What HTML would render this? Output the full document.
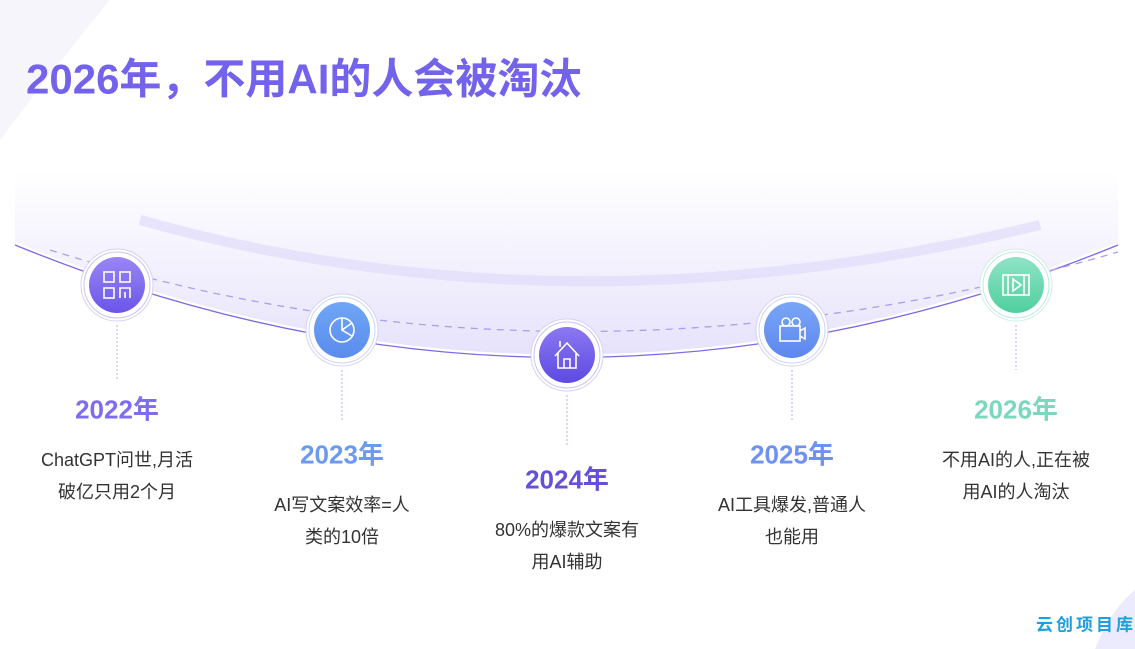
<!DOCTYPE html>
<html><head><meta charset="utf-8"><style>
body{margin:0;width:1135px;height:649px;overflow:hidden;background:#fff;font-family:"Liberation Sans","Noto Sans CJK SC",sans-serif;position:relative}
.t{position:absolute;white-space:nowrap;transform:translate(-50%,-50%)}
.y{font-size:26px;font-weight:bold}
.d{font-size:18px;color:#333}
</style></head><body>
<svg width="1135" height="649" style="position:absolute;left:0;top:0">
<defs>
<linearGradient id="bg" x1="0" y1="0" x2="0" y2="1">
<stop offset="0" stop-color="#ffffff"/><stop offset="0.5" stop-color="#f3f1fd"/><stop offset="1" stop-color="#e6e2fb"/></linearGradient>
<linearGradient id="c1" x1="0" y1="0" x2="0" y2="1"><stop offset="0" stop-color="#9a86f6"/><stop offset="1" stop-color="#6a55ea"/></linearGradient>
<linearGradient id="c2" x1="0" y1="0" x2="0" y2="1"><stop offset="0" stop-color="#6fa6f5"/><stop offset="1" stop-color="#5a8cef"/></linearGradient>
<linearGradient id="c3" x1="0" y1="0" x2="0" y2="1"><stop offset="0" stop-color="#8a78f2"/><stop offset="1" stop-color="#5d4ae2"/></linearGradient>
<linearGradient id="c4" x1="0" y1="0" x2="0" y2="1"><stop offset="0" stop-color="#7aa6f7"/><stop offset="1" stop-color="#5e86f0"/></linearGradient>
<linearGradient id="c5" x1="0" y1="0" x2="0" y2="1"><stop offset="0" stop-color="#8fe3c6"/><stop offset="1" stop-color="#4fcf9e"/></linearGradient>
</defs>
<path d="M0,0 L110,0 Q60,60 0,140 Z" fill="#f6f5fc"/>
<path d="M1135,590 Q1110,610 1095,649 L1135,649 Z" fill="#eceafd"/>
<path d="M15,170 L1118,170 L1118,245 Q567,470 15,245 Z" fill="url(#bg)"/>
<path d="M140,220 Q567,340 1040,225" fill="none" stroke="#e0dbfa" stroke-width="10" opacity="0.7"/>
<path d="M15,245 Q567,470 1118,245" fill="none" stroke="#fff" stroke-width="6"/>
<path d="M15,245 Q567,470 1118,245" fill="none" stroke="#7a6ae6" stroke-width="1.3"/>
<path d="M50,250 Q567,412 1118,252" fill="none" stroke="#a9a0ee" stroke-width="1.3" stroke-dasharray="7,6"/>
<g stroke="#b8b2e8" stroke-width="1" stroke-dasharray="2,2">
<line x1="117" y1="325" x2="117" y2="380"/><line x1="342" y1="370" x2="342" y2="420"/>
<line x1="567" y1="395" x2="567" y2="445"/><line x1="792" y1="370" x2="792" y2="420"/><line x1="1016" y1="325" x2="1016" y2="370"/></g>
<g fill="#fff">
<circle cx="117" cy="285" r="36" stroke="#d6d2f5"/><circle cx="117" cy="285" r="33" stroke="#c9c3f2"/><circle cx="117" cy="285" r="28" fill="url(#c1)"/>
<circle cx="342" cy="330" r="36" stroke="#d6d2f5"/><circle cx="342" cy="330" r="33" stroke="#c9d6f5"/><circle cx="342" cy="330" r="28" fill="url(#c2)"/>
<circle cx="567" cy="355" r="36" stroke="#d6d2f5"/><circle cx="567" cy="355" r="33" stroke="#c9c3f2"/><circle cx="567" cy="355" r="28" fill="url(#c3)"/>
<circle cx="792" cy="330" r="36" stroke="#d6d2f5"/><circle cx="792" cy="330" r="33" stroke="#c9d6f5"/><circle cx="792" cy="330" r="28" fill="url(#c4)"/>
<circle cx="1016" cy="285" r="36" stroke="#d2efe5"/><circle cx="1016" cy="285" r="33" stroke="#bfeadb"/><circle cx="1016" cy="285" r="28" fill="url(#c5)"/>
</g>
<g fill="none" stroke="#fff" stroke-width="1.6">
<rect x="104" y="272" width="10" height="10"/><rect x="120" y="272" width="10" height="10"/><rect x="104" y="288" width="10" height="10"/>
<path d="M120,298 V288 H130 V298 M125,292 V298"/>
<circle cx="342" cy="330" r="12"/><path d="M342,318 V330 L352,336 M342,330 L352,323"/>
<path d="M555,356 L567,343 L579,356 M558,353 V368 H576 V353 M564,368 V359 H570 V368 M560,347 V341"/>
<circle cx="786" cy="322" r="4"/><circle cx="796" cy="322" r="4"/><rect x="780" y="326" width="20" height="15"/><path d="M800,331 L805,328 V339 L800,336"/>
<rect x="1003" y="275" width="26" height="20"/><path d="M1008,275 V295 M1024,275 V295 M1013,279 L1021,285 L1013,291 Z"/>
</g>
</svg>
<div class="t" style="left:26px;top:76px;transform:translateY(-50%);font-size:42px;font-weight:bold;color:#7262ec">2026年，不用AI的人会被淘汰</div>
<div class="t y" style="left:117px;top:408px;color:#7d6df0">2022年</div>
<div class="t d" style="left:117px;top:459px">ChatGPT问世,月活</div>
<div class="t d" style="left:117px;top:491px">破亿只用2个月</div>
<div class="t y" style="left:342px;top:453px;color:#6b9af0">2023年</div>
<div class="t d" style="left:342px;top:504px">AI写文案效率=人</div>
<div class="t d" style="left:342px;top:536px">类的10倍</div>
<div class="t y" style="left:567px;top:478px;color:#6450dc">2024年</div>
<div class="t d" style="left:567px;top:529px">80%的爆款文案有</div>
<div class="t d" style="left:567px;top:561px">用AI辅助</div>
<div class="t y" style="left:792px;top:453px;color:#6e92f2">2025年</div>
<div class="t d" style="left:792px;top:504px">AI工具爆发,普通人</div>
<div class="t d" style="left:792px;top:536px">也能用</div>
<div class="t y" style="left:1016px;top:408px;color:#7bd8bc">2026年</div>
<div class="t d" style="left:1016px;top:459px">不用AI的人,正在被</div>
<div class="t d" style="left:1016px;top:491px">用AI的人淘汰</div>
<div class="t" style="left:1086px;top:623px;font-size:17px;font-weight:bold;color:#1ea0e0;letter-spacing:3px">云创项目库</div>
</body></html>
